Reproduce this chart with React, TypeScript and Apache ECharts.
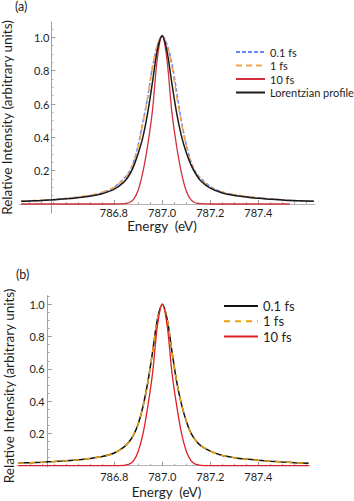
import React, { useEffect, useRef } from 'react';
import * as echarts from 'echarts';

const FONT = 'Lato, "Open Sans", sans-serif';
const TEXT = '#1e1e1e';

// ---------- data ----------
const energiesA = [
  786.415, 786.45, 786.5, 786.55, 786.6, 786.65, 786.7, 786.75, 786.8, 786.84, 786.86, 786.88,
  786.9, 786.92, 786.94, 786.96, 786.98, 787.0, 787.02, 787.04, 787.06, 787.08, 787.1, 787.12,
  787.14, 787.16, 787.2, 787.25, 787.3, 787.35, 787.4, 787.45, 787.5, 787.53, 787.57, 787.63,
];
const blueA = [
  0.016, 0.018, 0.021, 0.026, 0.033, 0.04, 0.05, 0.066, 0.1, 0.15, 0.185, 0.245,
  0.35, 0.49, 0.64, 0.82, 0.95, 1.01, 0.96, 0.85, 0.68, 0.5, 0.36, 0.255,
  0.19, 0.155, 0.105, 0.072, 0.056, 0.045, 0.037, 0.03, 0.025, 0.022, 0.019, 0.016,
];
const orangeA = [
  0.017, 0.019, 0.022, 0.027, 0.033, 0.042, 0.052, 0.07, 0.1, 0.145, 0.18, 0.24,
  0.34, 0.48, 0.64, 0.82, 0.95, 1.01, 0.95, 0.83, 0.65, 0.49, 0.35, 0.25,
  0.185, 0.15, 0.1, 0.072, 0.056, 0.046, 0.038, 0.031, 0.026, 0.023, 0.02, 0.016,
];
const redA: (number | null)[] = [
  0, 0, 0, 0, 0, 0, 0, 0, 0, 0.002, 0.006, 0.025,
  0.08, 0.19, 0.35, 0.56, 0.87, 1.01, 0.87, 0.56, 0.35, 0.19, 0.08, 0.025,
  0.006, 0.002, 0, 0, 0, 0, 0, 0, 0, 0, null, null,
];
const blackA = [
  0.016, 0.018, 0.021, 0.026, 0.031, 0.038, 0.047, 0.062, 0.088, 0.13, 0.165, 0.22,
  0.3, 0.4, 0.545, 0.73, 0.92, 1.01, 0.92, 0.73, 0.55, 0.41, 0.31, 0.235,
  0.18, 0.14, 0.095, 0.066, 0.051, 0.042, 0.034, 0.029, 0.024, 0.021, 0.019, 0.016,
];

const energiesB = [
  786.4, 786.45, 786.5, 786.55, 786.6, 786.65, 786.7, 786.75, 786.8, 786.84, 786.86, 786.88,
  786.9, 786.92, 786.94, 786.96, 786.98, 787.0, 787.02, 787.04, 787.06, 787.08, 787.1, 787.12,
  787.14, 787.16, 787.2, 787.25, 787.3, 787.35, 787.4, 787.45, 787.5, 787.55, 787.61,
];
const blackB = [
  0.016, 0.019, 0.022, 0.026, 0.031, 0.037, 0.045, 0.057, 0.079, 0.115, 0.145, 0.19,
  0.26, 0.37, 0.52, 0.71, 0.91, 1.0, 0.91, 0.71, 0.52, 0.38, 0.275, 0.2,
  0.155, 0.125, 0.09, 0.063, 0.05, 0.041, 0.034, 0.028, 0.023, 0.019, 0.015,
];
const orangeB = [
  0.016, 0.019, 0.022, 0.026, 0.031, 0.037, 0.045, 0.057, 0.079, 0.115, 0.145, 0.19,
  0.26, 0.37, 0.52, 0.71, 0.91, 1.0, 0.91, 0.71, 0.52, 0.38, 0.275, 0.2,
  0.155, 0.125, 0.09, 0.063, 0.05, 0.041, 0.034, 0.028, 0.023, 0.019, 0.015,
];
const redB = [
  0, 0, 0, 0, 0, 0, 0, 0, 0, 0.002, 0.008, 0.03,
  0.09, 0.2, 0.37, 0.58, 0.87, 1.0, 0.87, 0.58, 0.37, 0.2, 0.09, 0.03,
  0.008, 0.002, 0, 0, 0, 0, 0, 0, 0, 0, 0,
];

const namesA = ['0.1 fs', '1 fs', '10 fs', 'Lorentzian profile'];
const namesB = ['0.1 fs', '1 fs', '10 fs'];

const xTicks = [786.8, 787.0, 787.2, 787.4];
const xMinorTicks = [
  786.45, 786.5, 786.55, 786.6, 786.65, 786.7, 786.75, 786.85, 786.9, 786.95,
  787.05, 787.1, 787.15, 787.25, 787.3, 787.35, 787.45, 787.5, 787.55, 787.6,
];
const yTicks = [0.2, 0.4, 0.6, 0.8, 1.0];
const yMinorTicks = [
  0.05, 0.1, 0.15, 0.25, 0.3, 0.35, 0.45, 0.5, 0.55, 0.65, 0.7, 0.75, 0.85, 0.9, 0.95, 1.05,
];

// where the (Mathematica style) axes cross: energy of the vertical axis
const crossA = 786.54;
const crossB = 786.523;

const pairs = (xs: number[], ys: (number | null)[]) =>
  xs.map((x, i) => [x, ys[i]]).filter((p) => p[1] !== null && p[1] !== undefined);

type Panel = {
  left: number; top: number; width: number; height: number;
  xMin: number; xMax: number; yMin: number; yMax: number; cross: number;
};

const panelA: Panel = { left: 20, top: 22, width: 295, height: 191, xMin: 786.41, xMax: 787.635, yMin: -0.054, yMax: 1.092, cross: crossA };
const panelB: Panel = { left: 17, top: 295.7, width: 293, height: 171.3, xMin: 786.395, xMax: 787.615, yMin: -0.008, yMax: 1.053, cross: crossB };

// axis offsets (pixels) that put the axes where the data says they cross
const xOffset = (p: Panel) => -(p.height * (0 - p.yMin)) / (p.yMax - p.yMin);
const yOffset = (p: Panel) => -(p.width * (p.cross - p.xMin)) / (p.xMax - p.xMin);

function makeX(gridIndex: number, p: Panel, labelMargin: number, nameGap: number, namePadding: number[]) {
  const base = {
    type: 'value', gridIndex, position: 'bottom', min: p.xMin, max: p.xMax, offset: xOffset(p),
    splitLine: { show: false },
  };
  return [
    {
      ...base,
      name: 'Energy  (eV)',
      nameLocation: 'middle',
      nameGap,
      nameTextStyle: { fontFamily: FONT, fontSize: 13.5, color: TEXT, padding: namePadding },
      axisLine: { show: true, onZero: false, lineStyle: { color: '#b5b5b5', width: 1 } },
      axisTick: { show: true, inside: true, length: 4, customValues: xTicks, lineStyle: { color: '#999' } },
      axisLabel: {
        show: true, customValues: xTicks, formatter: (v: number) => v.toFixed(1),
        margin: labelMargin, fontFamily: FONT, fontSize: 11, color: TEXT,
      },
    },
    {
      ...base,
      axisLine: { show: false, onZero: false },
      axisTick: { show: true, inside: true, length: 2, customValues: xMinorTicks, lineStyle: { color: '#aaa' } },
      axisLabel: { show: false },
    },
  ];
}

function makeY(gridIndex: number, p: Panel, labelMargin: number, nameGap: number, namePadding: number[]) {
  const base = {
    type: 'value', gridIndex, position: 'left', min: p.yMin, max: p.yMax, offset: yOffset(p),
    splitLine: { show: false },
  };
  return [
    {
      ...base,
      name: 'Relative Intensity (arbitrary units)',
      nameLocation: 'middle',
      nameGap,
      nameTextStyle: { fontFamily: FONT, fontSize: 13.5, color: TEXT, padding: namePadding },
      axisLine: { show: true, onZero: false, lineStyle: { color: '#a0a0a0', width: 1 } },
      axisTick: { show: true, inside: true, length: 4, customValues: yTicks, lineStyle: { color: '#999' } },
      axisLabel: {
        show: true, customValues: yTicks, formatter: (v: number) => v.toFixed(1),
        margin: labelMargin, fontFamily: FONT, fontSize: 11, color: TEXT,
      },
    },
    {
      ...base,
      axisLine: { show: false, onZero: false },
      axisTick: { show: true, inside: true, length: 2, customValues: yMinorTicks, lineStyle: { color: '#aaa' } },
      axisLabel: { show: false },
    },
  ];
}

const line = (name: string, data: any[], xi: number, color: string, width: number, dash: any) => ({
  name,
  type: 'line',
  xAxisIndex: xi,
  yAxisIndex: xi,
  data,
  showSymbol: false,
  symbol: 'none',
  smooth: 0.3,
  lineStyle: { color, width, type: dash },
  itemStyle: { color },
  emphasis: { disabled: true },
});

export default function App() {
  const ref = useRef<HTMLDivElement>(null);

  useEffect(() => {
    if (!ref.current) return;
    const chart = echarts.init(ref.current, undefined, { renderer: 'svg' });
    const option: any = {
      animation: false,
      grid: [
        { left: panelA.left, top: panelA.top, width: panelA.width, height: panelA.height, containLabel: false, outerBoundsMode: 'none' },
        { left: panelB.left, top: panelB.top, width: panelB.width, height: panelB.height, containLabel: false, outerBoundsMode: 'none' },
      ],
      xAxis: [
        ...makeX(0, panelA, 3, 15, [0, 11, 0, 0]),
        ...makeX(1, panelB, 5, 19.5, [0, 0, 0, 6]),
      ],
      yAxis: [
        ...makeY(0, panelA, 2, 37, [0, 0, 0, 0]),
        ...makeY(1, panelB, 3, 32, [0, 9, 0, 0]),
      ],
      legend: [
        {
          data: namesA,
          orient: 'vertical',
          left: 230,
          top: 41.5,
          itemWidth: 29,
          itemHeight: 10,
          itemGap: 2.5,
          selectedMode: false,
          itemStyle: { opacity: 0 },
          textStyle: { fontFamily: FONT, fontSize: 11, color: TEXT },
        },
        {
          data: namesB.map((n) => 'b|' + n),
          formatter: (n: string) => n.replace('b|', ''),
          orient: 'vertical',
          left: 218,
          top: 294.5,
          itemWidth: 34,
          itemHeight: 10,
          itemGap: 2.3,
          selectedMode: false,
          itemStyle: { opacity: 0 },
          textStyle: { fontFamily: FONT, fontSize: 13, color: TEXT },
        },
      ],
      graphic: [
        { type: 'text', left: 15, top: 0, style: { text: '(a)', font: '12.5px Lato', fill: TEXT } },
        { type: 'text', left: 16, top: 268, style: { text: '(b)', font: '12.5px Lato', fill: TEXT } },
      ],
      series: [
        line(namesA[0], pairs(energiesA, blueA), 0, '#6b86f2', 1.5, [4, 2]),
        line(namesA[1], pairs(energiesA, orangeA), 0, '#f5a54f', 1.5, [6, 4]),
        line(namesA[2], pairs(energiesA, redA), 0, '#d0303c', 1.3, 'solid'),
        line(namesA[3], pairs(energiesA, blackA), 0, '#1a1a1a', 1.5, 'solid'),
        line('b|' + namesB[0], pairs(energiesB, blackB), 2, '#111111', 1.5, 'solid'),
        line('b|' + namesB[1], pairs(energiesB, orangeB), 2, '#e8a30c', 1.5, [6, 5]),
        line('b|' + namesB[2], pairs(energiesB, redB), 2, '#dd1f26', 1.3, 'solid'),
      ],
    };
    chart.setOption(option);
    return () => chart.dispose();
  }, []);

  return (
    <div
      ref={ref}
      style={{ position: 'fixed', left: 0, top: 0, width: 354, height: 501, background: '#fff' }}
    />
  );
}
